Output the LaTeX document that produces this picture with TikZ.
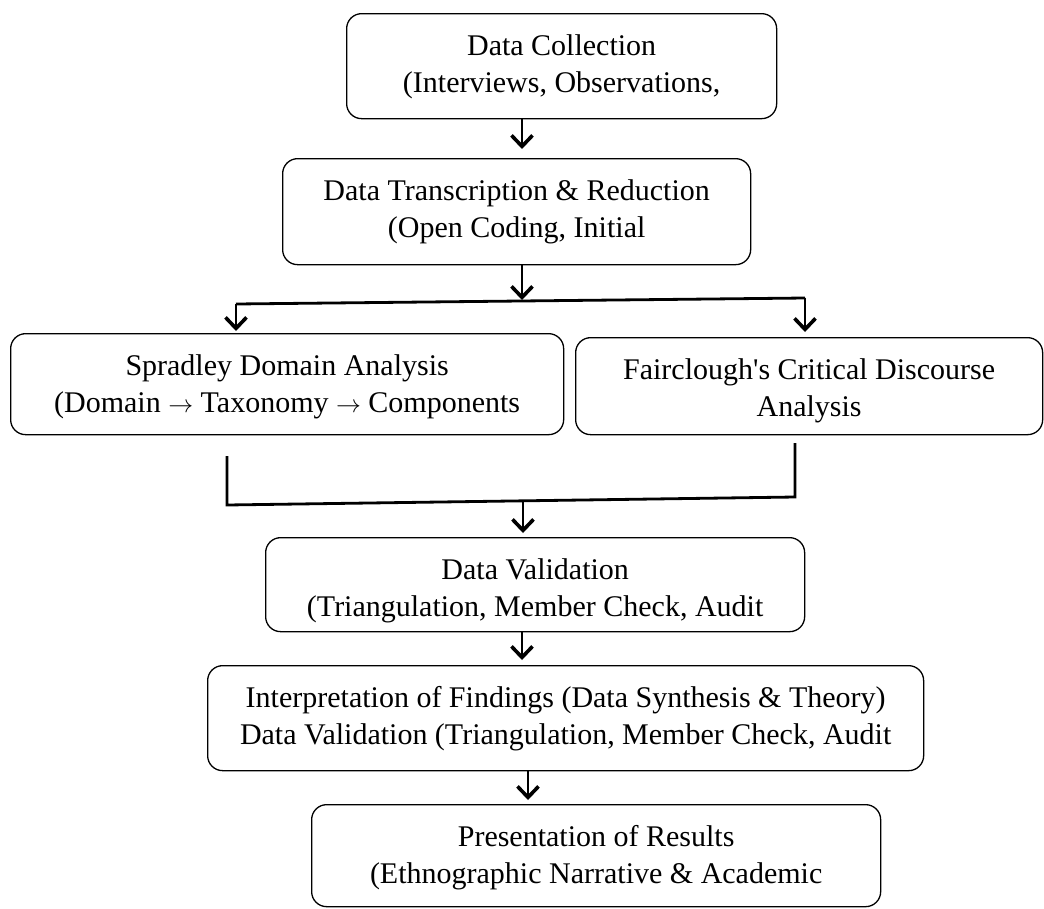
\documentclass[tikz,border=0pt]{standalone}
\usepackage{fontspec}
\setmainfont{Liberation Serif}[Ligatures=TeXOff]
\usetikzlibrary{arrows.meta}
\newcommand{\bxt}[3]{\parbox[c][#2][t]{#1}{\centering\rule{0pt}{42pt}#3}}
\begin{document}
\begin{tikzpicture}[x=1pt,y=-1pt,
  box/.style={draw=black, line width=1.3pt, rounded corners=15pt, inner sep=0pt, anchor=north west,
    font=\fontsize{30}{37}\selectfont},
  conn/.style={line width=2.8pt, line join=miter},
  arr/.style={line width=2.8pt, -{Straight Barb[length=11pt,width=21pt,line width=3.6pt]}}]
\useasboundingbox (0,0) rectangle (1044,908);
\fill[white] (0,0) rectangle (1044,908);

\node[box] (b1) at (346,13) {\bxt{430pt}{105pt}{Data Collection\\(Interviews, Observations,}};
\node[box] (b2) at (282,158) {\bxt{468pt}{106pt}{Data Transcription \& Reduction\\(Open Coding, Initial}};
\node[box] (b3) at (10,333) {\bxt{553pt}{101pt}{Spradley Domain Analysis\\(Domain $\rightarrow$ Taxonomy $\rightarrow$ Components}};
\node[box] (b4) at (575,337) {\bxt{467pt}{97pt}{Fairclough's Critical Discourse\\Analysis}};
\node[box] (b5) at (265,537) {\bxt{539pt}{94pt}{Data Validation\\(Triangulation, Member Check, Audit}};
\node[box] (b6) at (207,665) {\bxt{716pt}{105pt}{Interpretation of Findings (Data Synthesis \& Theory)\\Data Validation (Triangulation, Member Check, Audit}};
\node[box] (b7) at (311,804) {\bxt{569pt}{102pt}{Presentation of Results\\(Ethnographic Narrative \& Academic}};

\coordinate (a1) at (522,0);
\coordinate (a5) at (528,0);
\coordinate (sl) at (236,304);
\coordinate (sm) at (522,301);
\coordinate (sr) at (805,298);
\coordinate (ml) at (227,456);
\coordinate (mlc) at (227,505);
\coordinate (mm) at (523,501);
\coordinate (mrc) at (795,497);
\coordinate (mr) at (795,443);

\draw[arr, shorten >=9pt] (b1.south -| a1) -- (b2.north -| a1);
\draw[arr, shorten >=1pt] (b2.south -| a1) -- (sm);
\draw[conn] (sl) -- (sr);
\draw[arr, shorten >=2pt] (sl) -- (b3.north -| sl);
\draw[arr, shorten >=5pt] (sr) -- (b4.north -| sr);
\draw[conn] (ml) -- (mlc) -- (mrc) -- (mr);
\draw[arr, shorten >=4pt] (mm) -- (b5.north -| mm);
\draw[arr, shorten >=5pt] (b5.south -| a1) -- (b6.north -| a1);
\draw[arr, shorten >=4pt] (b6.south -| a5) -- (b7.north -| a5);
\end{tikzpicture}
\end{document}
